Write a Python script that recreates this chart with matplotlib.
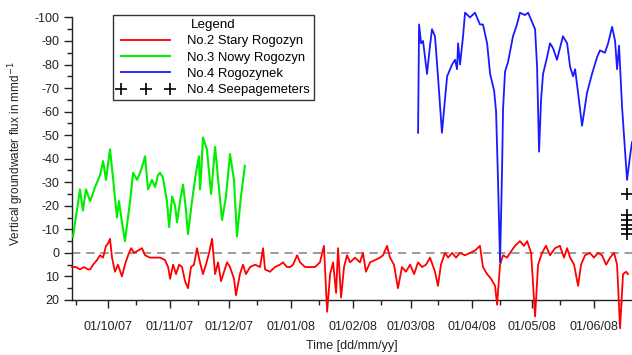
import numpy as np
import matplotlib
matplotlib.use("Agg")
import matplotlib.pyplot as plt
import matplotlib.dates as mdates
from matplotlib.lines import Line2D

plt.rcParams['font.family'] = ['Liberation Sans', 'DejaVu Sans']
plt.rcParams['axes.unicode_minus'] = False

# ---- data (days since 2007-10-01, flux in mm/d; negative = upward) ----
start_date = "2007-10-01"

green_days = [-17.6, -15.1, -14.1, -12.6, -11.1, -9.0, -6.5, -4.0, -2.5, -1.0, 1.0, 2.5, 4.5, 5.5,
              7.0, 8.5, 11.1, 12.6, 14.6, 16.1, 17.6, 18.6, 20.1, 22.1, 23.6, 25.1, 26.1, 27.6,
              29.6, 30.7, 32.2, 33.7, 34.7, 36.2, 37.7, 39.2, 40.2, 42.2, 44.2, 45.7, 46.2, 46.7,
              47.7, 49.7, 51.8, 53.8, 55.8, 57.3, 59.3, 61.3, 63.3, 64.8, 66.8, 68.8]
green_vals = [-7, -21, -27, -18, -27, -22, -28, -33, -39, -31, -44, -32, -15, -22,
              -13, -5, -22, -34, -31, -34, -38, -41, -27, -31, -28, -33, -34, -32,
              -22, -11, -24, -20, -13, -22, -29, -18, -8, -22, -34, -41, -27, -32,
              -49, -44, -25, -45, -27, -14, -24, -42, -31, -7, -24, -37]

red_days = [-18.1, -16.1, -14.1, -12.1, -10.1, -9.0, -7.5, -5.5, -4.0, -2.5, -1.0, 0.0, 1.0, 2.0,
            3.5, 5.0, 7.0, 8.5, 10.1, 11.6, 13.1, 15.1, 17.1, 18.6, 21.1, 23.6, 26.1, 28.6,
            30.2, 31.2, 32.7, 34.2, 35.7, 37.2, 38.7, 40.2, 41.7, 43.2, 44.7, 46.2, 47.7, 49.2,
            50.8, 52.3, 53.8, 55.3, 56.8, 58.3, 59.8, 61.3, 63.3, 64.3, 66.3, 67.8, 69.3, 71.4,
            73.9, 76.4, 77.9, 78.9, 81.4, 83.9, 86.4, 87.9, 89.9, 91.5, 93.0, 95.0, 96.5, 99.0,
            101.5, 104.0, 106.5, 108.5, 110.1, 111.6, 113.1, 114.6, 115.6, 117.1, 118.6, 120.1,
            121.6, 124.1, 126.6, 128.1, 129.6, 131.7, 134.2, 136.7, 138.2, 140.2, 141.7, 143.7,
            145.7, 147.7, 149.7, 151.8, 153.8, 155.8, 157.8, 159.8, 161.8, 164.3, 165.8, 167.3,
            169.3, 170.9, 172.9, 174.9, 176.9, 179.4, 181.9, 184.4, 186.9, 188.4, 190.5, 192.5,
            194.5, 195.5, 197.0, 198.5, 200.5, 202.0, 204.5, 207.0, 209.0, 210.6, 212.6, 214.6,
            216.1, 218.1, 220.1, 222.1, 224.6, 227.1, 229.1, 230.7, 232.2, 234.2, 236.2, 237.7,
            239.7, 242.2, 244.2, 246.2, 248.2, 250.3, 252.3, 254.3, 255.8, 257.3, 258.8, 260.3,
            261.3]
red_vals = [6, 6, 7, 6, 7, 7, 5, 3, 1, 2, -3, -4, -6, 2,
            8, 5, 10, 5, 1, -2, 0, -1, -2, 1, 2, 2, 2, 3,
            6, 11, 5, 9, 5, 6, 12, 15, 6, 5, -2, 4, 9, 5,
            0, -6, 9, 4, 12, 8, 4, 6, 11, 18, 9, 5, 9, 6,
            5, 6, -2, 7, 8, 6, 5, 4, 6, 6, 5, 1, 4, 6,
            6, 6, 4, -3, 25, 9, 4, 17, -2, 19, 6, 1,
            4, 2, 4, 0, 8, 4, 3, 2, 1, -3, 2, 5,
            15, 6, 8, 5, 9, 4, 6, 5, 2, 8, 14, 5,
            0, 2, 0, 2, 0, 1, 0, -1, -3, 6, 9, 11,
            14, 22, 5, 1, 2, 0, -3, -5, -3, -5, 0, 27,
            5, 0, -3, 1, -2, -3, 2, -2, 2, 5, 14, 5,
            1, 0, 2, 0, 1, 5, 2, 0, 5, 32, 9, 8,
            9]

blue_days = [155.8, 156.3, 157.3, 158.3, 160.3, 161.8, 162.8, 164.3, 165.8, 167.8, 169.3, 170.4,
             172.9, 174.4, 175.4, 175.9, 176.9, 178.4, 179.4, 181.9, 184.4, 186.9, 188.4, 190.5,
             192.0, 194.0, 195.0, 196.0, 197.0, 198.0, 198.5, 199.5, 201.0, 203.5, 205.5, 207.0,
             209.5, 211.1, 213.1, 214.6, 215.6, 216.6, 217.6, 218.6, 220.6, 222.1, 223.6, 225.6,
             227.1, 228.6, 230.7, 232.2, 233.7, 234.7, 236.2, 238.2, 240.7, 243.2, 245.7, 247.2,
             249.7, 251.3, 253.3, 254.8, 255.8, 256.8, 258.3, 260.8, 262.3, 263.3]
blue_vals = [-51, -97, -89, -90, -76, -88, -95, -92, -75, -51, -65, -75,
             -80, -82, -78, -89, -80, -92, -102, -100, -102, -97, -97, -89,
             -76, -69, -60, -30, 4, -35, -61, -77, -81, -92, -97, -102,
             -101, -102, -98, -95, -79, -43, -65, -76, -83, -89, -87, -82,
             -87, -92, -89, -79, -75, -78, -68, -54, -68, -76, -83, -86,
             -85, -89, -96, -90, -78, -88, -62, -31, -41, -47]

seep_days = [261.0, 261.0, 261.0, 261.0, 261.0, 261.0]
seep_vals = [-25, -16, -14, -12, -10, -8]

series_labels = ["No.2 Stary Rogozyn", "No.3 Nowy Rogozyn", "No.4 Rogozynek", "No.4 Seepagemeters"]

# ---- plotting ----
base = mdates.date2num(np.datetime64(start_date))
def to_x(days):
    return base + np.asarray(days, dtype=float)

fig = plt.figure(figsize=(6.32, 3.55), dpi=100)
ax = fig.add_axes([72/632, 1 - 300/355, 560/632, 292/355])

ax.axhline(0, color='#8a8a8a', lw=1.2, ls=(0, (5, 3.5)), zorder=1)
ax.plot(to_x(red_days), red_vals, color='#ff0000', lw=1.3, clip_on=False, zorder=3)
ax.plot(to_x(green_days), green_vals, color='#00ee00', lw=1.5, zorder=3)
ax.plot(to_x(blue_days), blue_vals, color='#1a1aff', lw=1.3, clip_on=False, zorder=3)
ax.plot(to_x(seep_days), seep_vals, ls='none', marker='+', ms=8, mew=1.2, color='black',
        clip_on=False, zorder=4)

ax.set_xlim(base - 18.1, base + 263.3)
ax.set_ylim(20, -104)

for s in ['top', 'right']:
    ax.spines[s].set_visible(False)
ax.spines['left'].set_bounds(20, -100)
for s in ['left', 'bottom']:
    ax.spines[s].set_color('#222222')
    ax.spines[s].set_linewidth(1.0)

ax.set_yticks(np.arange(-100, 21, 10))
ax.set_yticks(np.arange(-95, 20, 10), minor=True)
ax.xaxis.set_major_locator(mdates.MonthLocator(bymonthday=1))
ax.xaxis.set_minor_locator(mdates.MonthLocator(bymonthday=15))
ax.xaxis.set_major_formatter(mdates.DateFormatter('%d/%m/%y'))

ax.tick_params(axis='y', which='major', length=6, width=1, pad=3, labelsize=9, colors='#222222')
ax.tick_params(axis='y', which='minor', length=3.5, width=1, colors='#222222')
ax.tick_params(axis='x', which='major', length=6, width=1, pad=9, labelsize=9, colors='#222222')
ax.tick_params(axis='x', which='minor', length=3.5, width=1, colors='#222222')

ax.set_ylabel("Vertical groundwater flux in mmd$^{-1}$", fontsize=8.5, color='#222222', labelpad=6)
ax.set_xlabel("Time [dd/mm/yy]", fontsize=9, color='#222222', labelpad=5)

handles = [Line2D([], [], color='#ff0000', lw=1.3),
           Line2D([], [], color='#00ee00', lw=1.5),
           Line2D([], [], color='#1a1aff', lw=1.3),
           Line2D([], [], ls='none', marker='+', ms=8, mew=1.2, color='black')]
leg = fig.legend(handles, series_labels, title="Legend", loc='upper left',
                 bbox_to_anchor=(113/632, 1 - 15/355), borderaxespad=0,
                 fontsize=9.4, title_fontsize=9.6, numpoints=3, frameon=True,
                 fancybox=False, edgecolor='#333333', framealpha=1,
                 handlelength=4.4, handletextpad=1.0, labelspacing=0.32,
                 borderpad=0.3)
leg.get_frame().set_linewidth(1.0)

fig.savefig("out.png", dpi=100)
